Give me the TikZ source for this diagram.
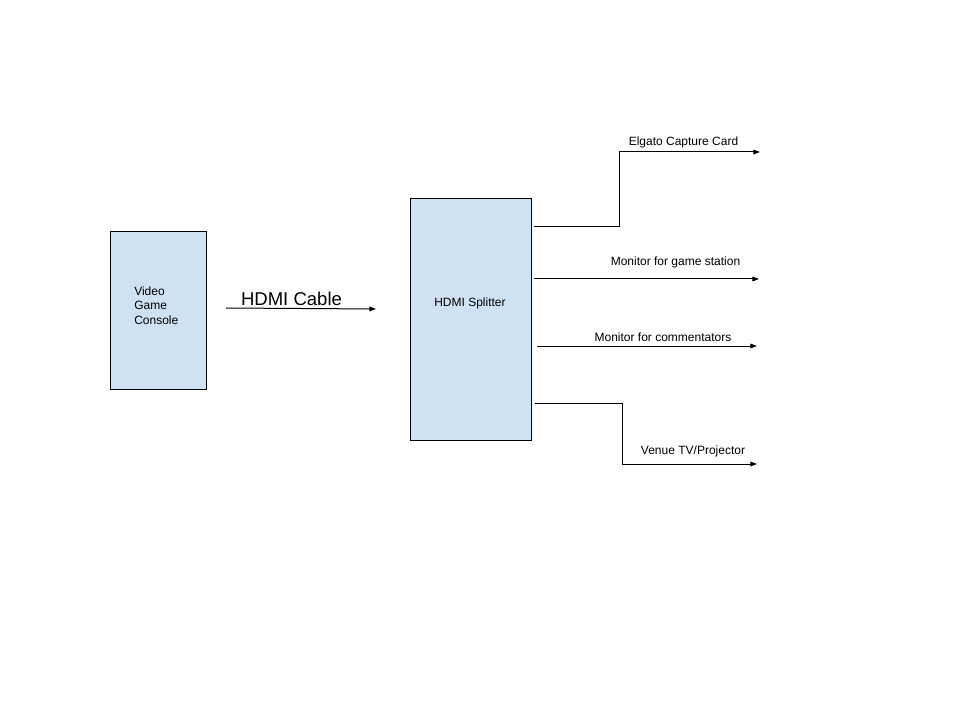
\documentclass[tikz,border=0pt]{standalone}
\usepackage{fontspec}
\setmainfont{Liberation Sans}
\usetikzlibrary{arrows.meta}
\definecolor{boxblue}{HTML}{CFE2F3}
\begin{document}
\begin{tikzpicture}[x=0.75pt,y=-0.75pt,
  blk/.style={draw=black,line width=0.75pt,fill=boxblue,inner sep=0pt},
  lbl/.style={inner sep=0pt,font=\fontsize{9}{10.9}\selectfont},
  wire/.style={line width=0.75pt,-{Triangle[length=5pt,width=3.5pt]}},
  wireplain/.style={line width=0.75pt}]
\useasboundingbox[fill=white] (0,0) rectangle (960,720);
\node[blk,minimum width=96*0.75pt,minimum height=157*0.75pt] (console) at (158,310.5) {};
\node[lbl,anchor=west,align=left] (ctext) at (134,305.5) {Video\\Game\\Console};
\node[blk,minimum width=121*0.75pt,minimum height=241*0.75pt] (splitter) at (470.5,319.5) {};
\node[lbl] (stext) at (470,303) {HDMI Splitter};
% HDMI cable
\coordinate (c0) at (226,308);
\coordinate (c1) at (376,309);
\draw[wire] (c0) -- (c1);
\node[inner sep=0pt,font=\fontsize{13.9}{16}\selectfont] (hdmi) at (291.5,299) {HDMI Cable};
% Elgato
\coordinate (e0) at (534,227);
\coordinate (e1) at (619,227);
\coordinate (e2) at (619,152);
\coordinate (e3) at (760,152);
\draw[wire] (e0) -- (e1) -- (e2) -- (e3);
\node[lbl] (elgato) at (683.5,142) {Elgato Capture Card};
% Monitor game station
\coordinate (g0) at (534,279);
\coordinate (g1) at (759,279);
\draw[wire] (g0) -- (g1);
\node[lbl] (game) at (675.5,262) {Monitor for game station};
% Monitor commentators
\coordinate (m0) at (537,346);
\coordinate (m1) at (757,346);
\draw[wire] (m0) -- (m1);
\node[lbl] (comm) at (663,337) {Monitor for commentators};
% Venue
\coordinate (v0) at (535,403);
\coordinate (v1) at (622,403);
\coordinate (v2) at (622,464);
\coordinate (v3) at (757,464);
\draw[wire] (v0) -- (v1) -- (v2) -- (v3);
\node[lbl] (venue) at (693,451) {Venue TV/Projector};
\end{tikzpicture}
\end{document}
